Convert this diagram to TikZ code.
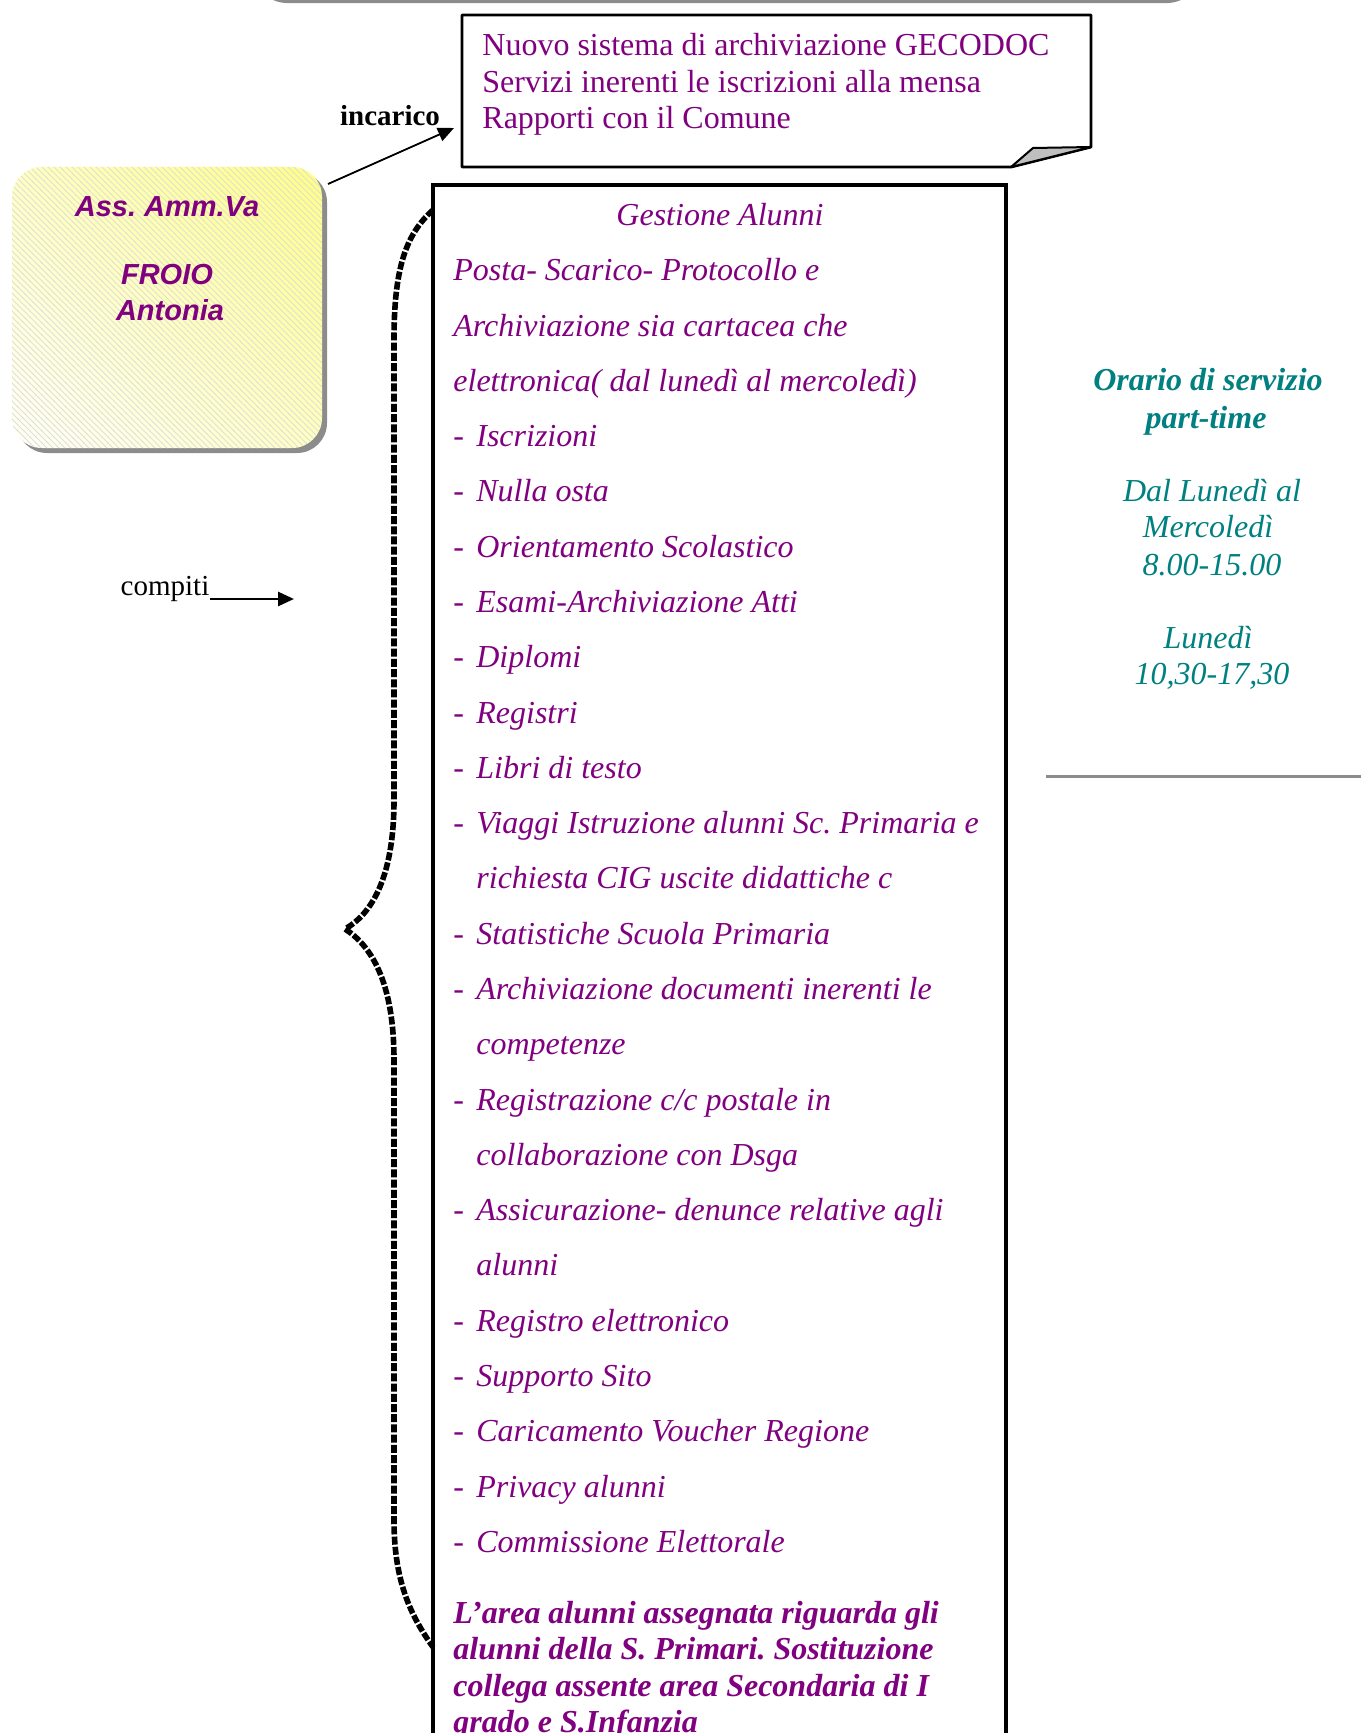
\documentclass[tikz,border=0pt]{standalone}
\usepackage{fontspec}
\setmainfont{Liberation Serif}
\newfontfamily\arialf{Liberation Sans}
\usetikzlibrary{arrows.meta,patterns,shadows,shadings}
\definecolor{viola}{HTML}{800080}
\definecolor{tealc}{HTML}{008080}
\newcommand{\dashitm}[1]{\makebox[11.5pt][l]{-}#1}
\newcommand{\contitm}[1]{\hspace*{11.5pt}#1}
\frenchspacing
\begin{document}
\begin{tikzpicture}[x=0.5pt,y=-0.5pt,
  itemtxt/.style={anchor=mid west, inner sep=0pt, text=viola, font=\fontsize{16}{19}\selectfont\itshape},
  boldtxt/.style={anchor=mid west, inner sep=0pt, text=viola, font=\fontsize{16}{19}\selectfont\bfseries\itshape},
  notetxt/.style={anchor=mid west, inner sep=0pt, text=viola, font=\fontsize{16}{19}\selectfont},
  orariotxt/.style={anchor=mid, inner sep=0pt, text=tealc, font=\fontsize{16}{19}\selectfont\itshape},
  nametxt/.style={anchor=mid, inner sep=0pt, text=viola, font=\arialf\fontsize{14.5}{17}\selectfont\bfseries\itshape},
  lbl/.style={anchor=mid, inner sep=0pt, text=black, font=\fontsize{14.5}{17}\selectfont},
  arr/.style={-{Triangle[length=8pt,width=7pt]}, black},
  brace/.style={black, line width=2.8pt, dash pattern=on 4pt off 1.1pt}
]
\useasboundingbox (0,0) rectangle (1361,1733);

% top gray ornament
\draw[black!45, line width=1.6pt, rounded corners=18pt] (252,-60) -- (252,1.5) -- (1202,1.5) -- (1202,-60);

% note box with folded corner
\draw[line width=1.4pt, fill=white, line join=round] (462,15) -- (1091,15) -- (1091,147) -- (1011,167) -- (462,167) -- cycle;
\draw[line width=1pt, fill=black!25, line join=round] (1011,167) -- (1033,148) -- (1091,147) -- cycle;
\node[notetxt] (n1) at (482,50.5) {Nuovo sistema di archiviazione GECODOC};
\node[notetxt] (n2) at (482,87.5) {Servizi inerenti le iscrizioni alla mensa};
\node[notetxt] (n3) at (482,123.5) {Rapporti con il Comune};

% incarico
\node[lbl, font=\fontsize{14.5}{17}\selectfont\bfseries] (inc) at (390,120.5) {incarico};
\coordinate (a1) at (328,184);
\coordinate (a2) at (454,128);
\draw[arr, line width=0.9pt] (a1) -- (a2);

% yellow box
\node[rounded corners=15pt, minimum width=155pt, minimum height=140.5pt, inner sep=0pt,
      drop shadow={shadow xshift=2.5pt, shadow yshift=-2.5pt, fill=black!45, opacity=1},
      upper right={yellow!50}, lower left={yellow!3}, upper left={yellow!25}, lower right={yellow!25},
      postaction={pattern=north west lines, pattern color=black!13}] (ybox) at (167,307.5) {};
\node[nametxt] (ass) at (167,211.5) {Ass. Amm.Va};
\node[nametxt] (froio) at (167,279.5) {FROIO};
\node[nametxt] (anto) at (170,315.5) {Antonia};

% compiti
\node[lbl] (comp) at (165,590.5) {compiti};
\coordinate (c1) at (210,599);
\coordinate (c2) at (294,599);
\draw[arr, line width=1.4pt] (c1) -- (c2);

% main box
\draw[line width=1.6pt] (433,185) rectangle (1006,1800);

% brace
\draw[brace] (433,210) .. controls (405,235) and (394,270) .. (394,340) -- (394,800)
  .. controls (394,880) and (370,915) .. (345,929)
  .. controls (370,945) and (394,980) .. (394,1060) -- (394,1520)
  .. controls (394,1580) and (410,1615) .. (433,1647);

% list
\node[itemtxt, anchor=mid] (g0) at (720,221) {Gestione Alunni};
\node[itemtxt] (g1) at (453,276.3) {Posta- Scarico- Protocollo e};
\node[itemtxt] (g2) at (453,331.6) {Archiviazione sia cartacea che};
\node[itemtxt] (g3) at (453,386.8) {elettronica( dal lunedì al mercoledì)};
\node[itemtxt] (g4) at (453,442.1) {\dashitm{Iscrizioni}};
\node[itemtxt] (g5) at (453,497.4) {\dashitm{Nulla osta}};
\node[itemtxt] (g6) at (453,552.7) {\dashitm{Orientamento Scolastico}};
\node[itemtxt] (g7) at (453,608.0) {\dashitm{Esami-Archiviazione Atti}};
\node[itemtxt] (g8) at (453,663.2) {\dashitm{Diplomi}};
\node[itemtxt] (g9) at (453,718.5) {\dashitm{Registri}};
\node[itemtxt] (g10) at (453,773.8) {\dashitm{Libri di testo}};
\node[itemtxt] (g11) at (453,829.1) {\dashitm{Viaggi Istruzione alunni Sc. Primaria e}};
\node[itemtxt] (g12) at (453,884.4) {\contitm{richiesta CIG uscite didattiche c}};
\node[itemtxt] (g13) at (453,939.6) {\dashitm{Statistiche Scuola Primaria}};
\node[itemtxt] (g14) at (453,994.9) {\dashitm{Archiviazione documenti inerenti le}};
\node[itemtxt] (g15) at (453,1050.2) {\contitm{competenze}};
\node[itemtxt] (g16) at (453,1105.5) {\dashitm{Registrazione c/c postale in}};
\node[itemtxt] (g17) at (453,1160.8) {\contitm{collaborazione con Dsga}};
\node[itemtxt] (g18) at (453,1216.0) {\dashitm{Assicurazione- denunce relative agli}};
\node[itemtxt] (g19) at (453,1271.3) {\contitm{alunni}};
\node[itemtxt] (g20) at (453,1326.6) {\dashitm{Registro elettronico}};
\node[itemtxt] (g21) at (453,1381.9) {\dashitm{Supporto Sito}};
\node[itemtxt] (g22) at (453,1437.2) {\dashitm{Caricamento Voucher Regione}};
\node[itemtxt] (g23) at (453,1492.4) {\dashitm{Privacy alunni}};
\node[itemtxt] (g24) at (453,1547.7) {\dashitm{Commissione Elettorale}};

\node[boldtxt] (b1) at (453,1618.5) {L’area alunni assegnata riguarda gli};
\node[boldtxt] (b2) at (453,1655) {alunni della S. Primari. Sostituzione};
\node[boldtxt] (b3) at (453,1691.5) {collega assente area Secondaria di I};
\node[boldtxt] (b4) at (453,1728) {grado e S.Infanzia};

% orario
\node[orariotxt, font=\fontsize{16}{19}\selectfont\bfseries\itshape] (o1) at (1208,385.5) {Orario di servizio};
\node[orariotxt, font=\fontsize{16}{19}\selectfont\bfseries\itshape] (o2) at (1206,423.5) {part-time};
\node[orariotxt] (o3) at (1212,496.5) {Dal Lunedì al};
\node[orariotxt] (o4) at (1208,532.5) {Mercoledì};
\node[orariotxt] (o5) at (1212,570.5) {8.00-15.00};
\node[orariotxt] (o6) at (1208,643.5) {Lunedì};
\node[orariotxt] (o7) at (1212,679.5) {10,30-17,30};

% gray rule
\draw[black!45, line width=1.5pt] (1046,776) -- (1361,776);
\end{tikzpicture}
\end{document}
